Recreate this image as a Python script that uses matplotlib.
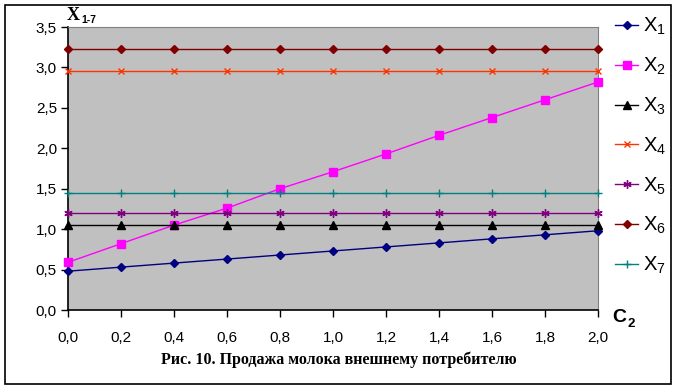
import numpy as np
import matplotlib
matplotlib.use("Agg")
import matplotlib.pyplot as plt
from matplotlib.lines import Line2D
from matplotlib.patches import Rectangle

plt.rcParams['font.family'] = ['Liberation Sans', 'DejaVu Sans']
plt.rcParams['mathtext.fontset'] = 'custom'
plt.rcParams['mathtext.rm'] = 'Liberation Sans'
plt.rcParams['mathtext.default'] = 'regular'

# data
c2 = [0.0, 0.2, 0.4, 0.6, 0.8, 1.0, 1.2, 1.4, 1.6, 1.8, 2.0]
x1 = [0.48, 0.53, 0.58, 0.63, 0.68, 0.73, 0.78, 0.83, 0.88, 0.93, 0.98]
x2 = [0.59, 0.82, 1.05, 1.26, 1.50, 1.71, 1.93, 2.16, 2.38, 2.60, 2.82]
x3 = [1.05] * 11
x4 = [2.95] * 11
x5 = [1.20] * 11
x6 = [3.23] * 11
x7 = [1.45] * 11

series = [
    ("X$_1$", x1, "#000080", "D", 4.5),
    ("X$_2$", x2, "#FF00FF", "s", 5.5),
    ("X$_3$", x3, "#000000", "^", 6),
    ("X$_4$", x4, "#FF3300", "x", 4.5),
    ("X$_5$", x5, "#800080", (6, 2, 0), 6),
    ("X$_6$", x6, "#800000", "D", 4.5),
    ("X$_7$", x7, "#008080", "+", 6),
]

W, H = 677, 390
fig = plt.figure(figsize=(W / 100, H / 100), dpi=100)
fig.patches.append(Rectangle((5 / W, 6 / H), 666 / W, 379 / H, transform=fig.transFigure,
                             fill=False, edgecolor="black", linewidth=1.2))

ax = fig.add_axes([68 / W, 80 / H, 530 / W, 283 / H])
ax.set_facecolor("#C0C0C0")

handles = []
for label, vals, col, mk, ms in series:
    ax.plot(c2, vals, color=col, marker=mk, markersize=ms, linewidth=1.0,
            markeredgecolor=col, markerfacecolor=col, clip_on=False, zorder=3)
    handles.append(Line2D([], [], color=col, marker=mk, markersize=ms, linewidth=1.0,
                          markeredgecolor=col, markerfacecolor=col, label=label))

ax.set_xlim(0, 2.0)
ax.set_ylim(0, 3.5)
ax.set_xticks(np.arange(0, 2.01, 0.2))
ax.set_yticks(np.arange(0, 3.51, 0.5))
ax.set_xticklabels([f"{v:.1f}".replace(".", ",") for v in np.arange(0, 2.01, 0.2)])
ax.set_yticklabels([f"{v:.1f}".replace(".", ",") for v in np.arange(0, 3.51, 0.5)])
ax.tick_params(labelsize=11, length=5, width=1, pad=10)
ax.tick_params(axis='y', pad=3)
ax.spines['left'].set_linewidth(1.2)
ax.spines['bottom'].set_linewidth(1.2)
ax.spines['top'].set_color("#808080")
ax.spines['right'].set_color("#808080")

fig.text(67 / W, 1 - 16 / H, "X", fontsize=13, fontweight="bold", family="Liberation Serif",
         va="center", ha="left")
fig.text(81 / W, 1 - 20 / H, "1-7", fontsize=7.5, fontweight="bold", va="center", ha="left")
fig.text(612 / W, 1 - 317 / H, "C", fontsize=14, fontweight="bold", va="center", ha="left")
fig.text(628 / W, 1 - 324 / H, "2", fontsize=9.5, fontweight="bold", va="center", ha="left")

fig.text(0.5, 1 - 360 / H, "Рис. 10. Продажа молока внешнему потребителю", fontsize=11.5,
         fontweight="bold", family="Liberation Serif", ha="center", va="center")

fig.legend(handles=handles, loc="upper left", bbox_to_anchor=(607 / W, 1 - 8 / H),
           frameon=False, fontsize=14.5, labelspacing=0.92, handlelength=1.15,
           handletextpad=0.25, borderaxespad=0)

fig.savefig("out.png", dpi=100)
